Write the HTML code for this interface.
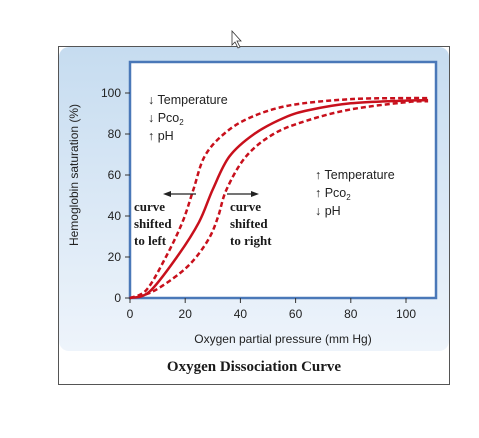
<!DOCTYPE html>
<html><head><meta charset="utf-8"><style>
body{margin:0;background:#fff;width:479px;height:433px;overflow:hidden}
svg text{font-family:"Liberation Sans",sans-serif}
</style></head><body>
<svg width="479" height="433">
<defs><linearGradient id="bg" x1="0" y1="0" x2="0" y2="1"><stop offset="0" stop-color="#c6dcf0"/><stop offset="1" stop-color="#eef4fb"/></linearGradient></defs>
<rect x="58.5" y="46.5" width="391" height="338" fill="#fff" stroke="#555"/>
<rect x="59" y="47" width="390" height="304" rx="10" fill="url(#bg)"/>
<path d="M232 31 l0 14 l3 -3 l3 6 l2 -1 l-3 -6 l4 0 z" fill="#fff" stroke="#333" stroke-width="0.8"/>
<rect x="130" y="62" width="306" height="236" fill="#fff" stroke="#4a78b8" stroke-width="2.5"/>
<g id="axes"></g>
<g id="curves"></g>
<g font-size="12.5" fill="#222">
<text x="148" y="104">↓ Temperature</text>
<text x="148" y="122">↓ Pco<tspan font-size="8" dy="3">2</tspan></text>
<text x="148" y="140">↑ pH</text>
<text x="315" y="179">↑ Temperature</text>
<text x="315" y="197">↑ Pco<tspan font-size="8" dy="3">2</tspan></text>
<text x="315" y="215">↓ pH</text>
</g>
<g stroke="#222" stroke-width="1.3" fill="#222">
<line x1="196" y1="194" x2="170" y2="194"/><path d="M163 194 l8 -3 l0 6 z" stroke="none"/>
<line x1="227" y1="194" x2="252" y2="194"/><path d="M259 194 l-8 -3 l0 6 z" stroke="none"/>
</g>
<g font-weight="bold" font-size="13" fill="#1a1a1a">
<text x="134" y="211" style="font-family:'Liberation Serif',serif">curve</text>
<text x="134" y="228" style="font-family:'Liberation Serif',serif">shifted</text>
<text x="134" y="245" style="font-family:'Liberation Serif',serif">to left</text>
<text x="230" y="211" style="font-family:'Liberation Serif',serif">curve</text>
<text x="230" y="228" style="font-family:'Liberation Serif',serif">shifted</text>
<text x="230" y="245" style="font-family:'Liberation Serif',serif">to right</text>
</g>
<text x="283" y="343" font-size="12" text-anchor="middle" fill="#222">Oxygen partial pressure (mm Hg)</text>
<text transform="translate(78,175) rotate(-90)" font-size="12" text-anchor="middle" fill="#222">Hemoglobin saturation (%)</text>
<text x="254" y="371" font-size="15" font-weight="bold" text-anchor="middle" fill="#1a1a1a" style="font-family:'Liberation Serif',serif">Oxygen Dissociation Curve</text>
</svg>
<script>
const xTicks=[0,20,40,60,80,100];
const yTicks=[0,20,40,60,80,100];
const pNormal=[0,7,17,25,30,36,45,56,65,80,100,108];
const sNormal=[0,3,20,37,53,69,80,88,91.7,95,96.3,96.5];
const pLeft=[0,6,13,19,23,27,34,43.5,58,80,100,108];
const sLeft=[0,4,20,37,53,69,80,88,94,97,97.5,97.5];
const pRight=[0,8,18,24,29,32,35,42,52,64,80,100,108];
const sRight=[0,3,12,20,30,40,53,69,80,86.5,92,95.5,96];
const X=v=>130+v*2.76, Y=v=>298-v*2.05;
const NS='http://www.w3.org/2000/svg';
const ax=document.getElementById('axes');
function mk(t,a,p){const e=document.createElementNS(NS,t);for(const k in a)e.setAttribute(k,a[k]);p.appendChild(e);return e;}
xTicks.forEach(v=>{
 const l=mk('line',{x1:X(v),x2:X(v),y1:298,y2:303,stroke:'#333'},ax);
 
 
 const t=mk('text',{x:X(v),y:318,'font-size':12,'text-anchor':'middle',fill:'#222'},ax);t.textContent=v;
 
 
});
yTicks.forEach(v=>{
 const l=mk('line',{x1:125,x2:130,y1:Y(v),y2:Y(v),stroke:'#333'},ax);
 
 
 const t=mk('text',{x:121,y:Y(v)+4,'font-size':12,'text-anchor':'end',fill:'#222'},ax);t.textContent=v;
 
 
});
function path(px,py){const pts=px.map((p,i)=>[X(p),Y(py[i])]);let d='M'+pts[0];
 for(let i=0;i<pts.length-1;i++){const p0=pts[Math.max(0,i-1)],p1=pts[i],p2=pts[i+1],p3=pts[Math.min(pts.length-1,i+2)];
 d+=` C${p1[0]+(p2[0]-p0[0])/6},${p1[1]+(p2[1]-p0[1])/6} ${p2[0]-(p3[0]-p1[0])/6},${p2[1]-(p3[1]-p1[1])/6} ${p2[0]},${p2[1]}`;}return d;}
const cg=document.getElementById('curves');
const c1=mk('path',{d:path(pLeft,sLeft),fill:'none',stroke:'#c8101c','stroke-width':2.5,'stroke-dasharray':'5 3'},cg);


const c2=mk('path',{d:path(pRight,sRight),fill:'none',stroke:'#c8101c','stroke-width':2.5,'stroke-dasharray':'5 3'},cg);


const c3=mk('path',{d:path(pNormal,sNormal),fill:'none',stroke:'#c8101c','stroke-width':2.5},cg);


</script>
</body></html>
